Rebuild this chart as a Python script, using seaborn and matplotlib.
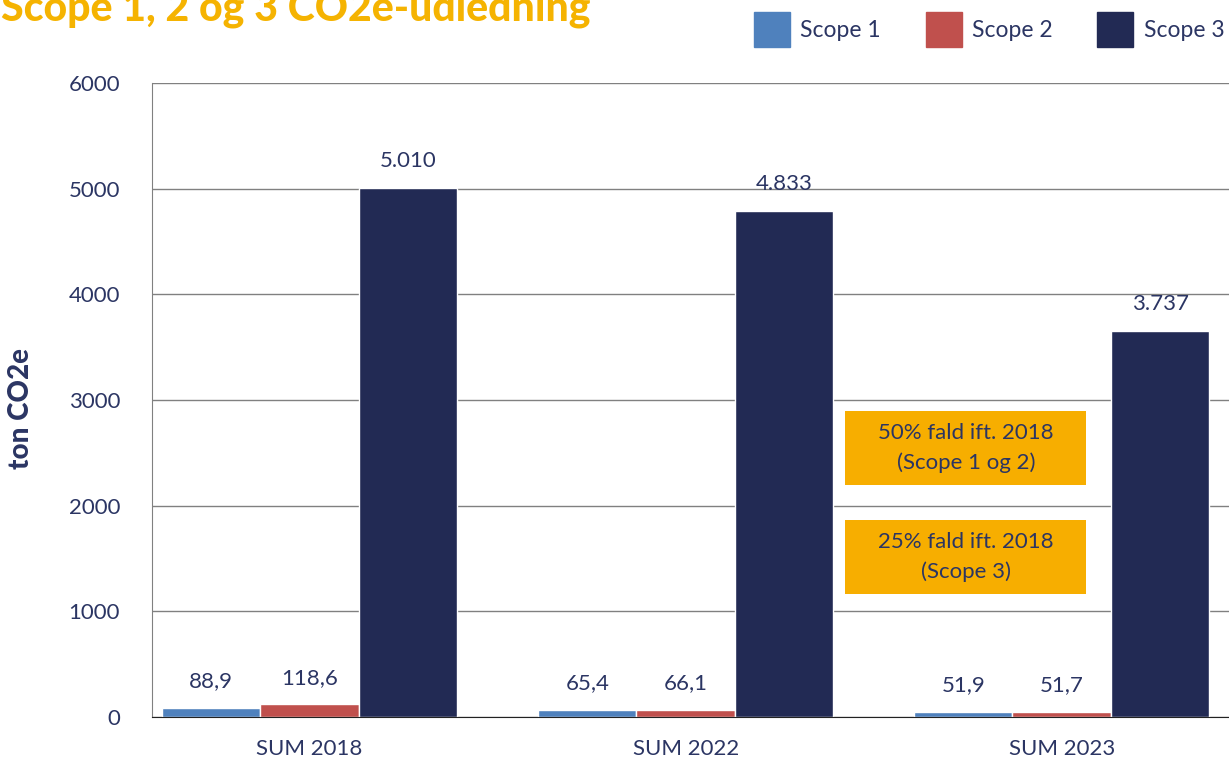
import seaborn as sns
sns.set_style("white")
import matplotlib.pyplot as plt
import pandas as pd
from matplotlib.patches import Patch, Rectangle

plt.rcParams['font.family'] = ['Lato', 'DejaVu Sans']

years = ['SUM 2018', 'SUM 2022', 'SUM 2023']
scopes = ['Scope 1', 'Scope 2', 'Scope 3']
scope1 = [88.9, 65.4, 51.9]
scope2 = [118.6, 66.1, 51.7]
scope3 = [5010, 4790, 3655]
scope1_labels = ['88,9', '65,4', '51,9']
scope2_labels = ['118,6', '66,1', '51,7']
scope3_labels = ['5.010', '4.833', '3.737']
notes = ['50% fald ift. 2018\n(Scope 1 og 2)', '25% fald ift. 2018\n(Scope 3)']

navy = '#2B3563'
colors = ['#4F81BD', '#C0504D', '#222A54']
orange = '#F7AE00'

df = pd.DataFrame({
    'year': years * 3,
    'scope': [s for s in scopes for _ in years],
    'value': scope1 + scope2 + scope3,
})

fig = plt.figure(figsize=(12.29, 7.57), dpi=100)
ax = fig.add_axes([0.1237, 0.0528, 0.8763, 0.8375])

sns.barplot(data=df, x='year', y='value', hue='scope', palette=colors,
            width=0.785, saturation=1, legend=False, ax=ax)

for cont, labs in zip(ax.containers, [scope1_labels, scope2_labels, scope3_labels]):
    ax.bar_label(cont, labels=labs, padding=12, color=navy, fontsize=16)

ax.set_xlim(-0.419, 2.445)
ax.set_ylim(0, 6000)
ax.set_yticks(range(0, 6001, 1000))
ax.yaxis.grid(True, color='#808080', lw=1)
ax.set_axisbelow(True)
ax.tick_params(axis='both', length=0, labelsize=16, labelcolor=navy)
ax.tick_params(axis='y', pad=23)
ax.tick_params(axis='x', pad=16)
ax.set_xlabel('')
ax.set_ylabel('')
for s in ['top', 'right']:
    ax.spines[s].set_visible(False)
ax.spines['left'].set_color('#808080')
ax.spines['bottom'].set_color('#222222')

# orange note boxes
for (y0, y1), txt in zip([(2196, 2896), (1164, 1864)], notes):
    ax.add_patch(Rectangle((1.424, y0), 0.641, y1 - y0, color=orange, lw=0, zorder=3))
    ax.text(1.745, (y0 + y1) / 2, txt, ha='center', va='center', fontsize=16,
            color=navy, linespacing=1.6, zorder=4)

fig.text(21 / 1229, 0.46, 'ton CO2e', rotation=90, ha='center', va='center',
         fontsize=20, fontweight='black', color=navy)
fig.text(0.001, 1 - 20 / 757, 'Scope 1, 2 og 3 CO2e-udledning', ha='left', va='baseline',
         fontsize=29.5, fontweight='black', color='#F5B301')

handles = [Patch(color=c, label=s) for c, s in zip(colors, scopes)]
leg = fig.legend(handles=handles, loc='upper left', bbox_to_anchor=(754 / 1229, 1 - 12 / 757),
                 ncol=3, frameon=False, fontsize=16.5, handlelength=1.57, handleheight=2.0,
                 handletextpad=0.45, columnspacing=1.95, borderpad=0, borderaxespad=0)
for t in leg.get_texts():
    t.set_color(navy)

fig.savefig('out.png', dpi=100)
